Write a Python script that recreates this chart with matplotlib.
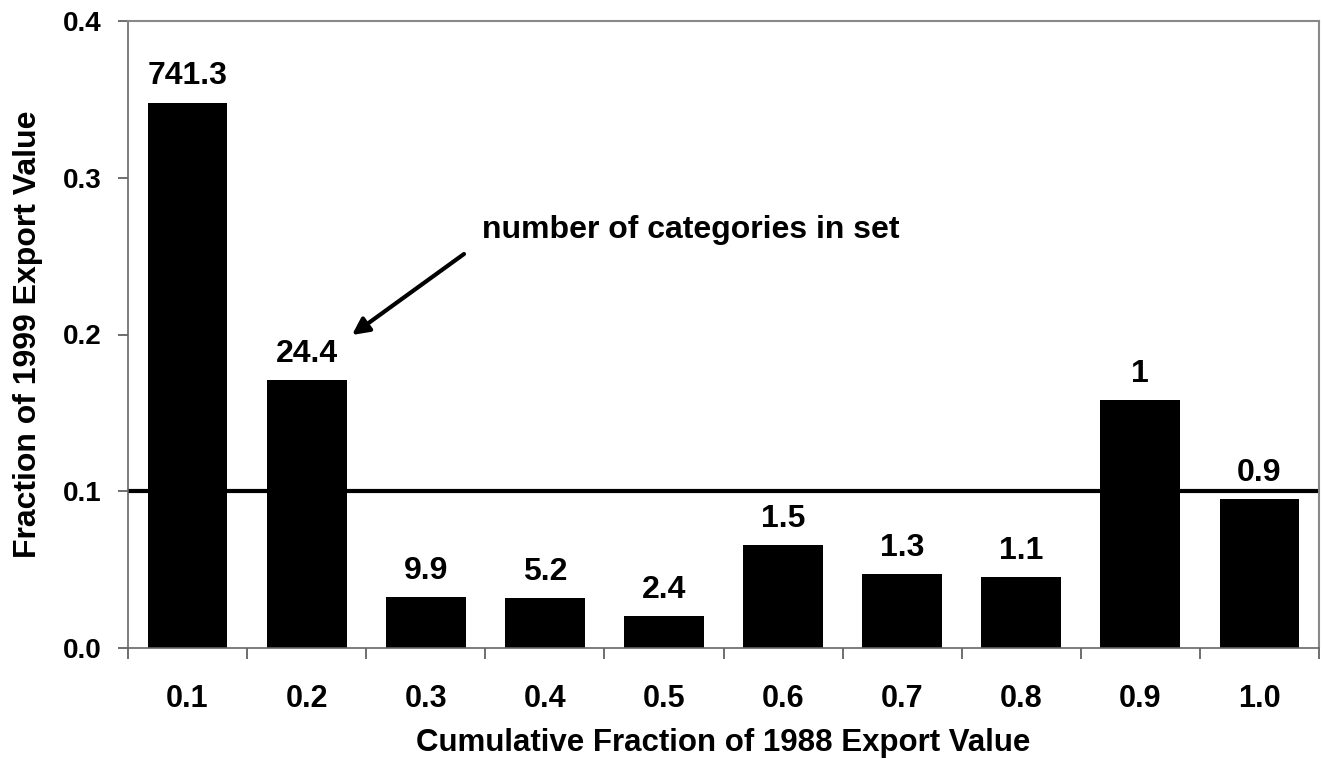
import matplotlib
matplotlib.use("Agg")
import matplotlib.pyplot as plt
import numpy as np

categories = ["0.1", "0.2", "0.3", "0.4", "0.5", "0.6", "0.7", "0.8", "0.9", "1.0"]
fractions = [0.348, 0.171, 0.0325, 0.032, 0.0205, 0.0655, 0.047, 0.045, 0.158, 0.095]
counts = ["741.3", "24.4", "9.9", "5.2", "2.4", "1.5", "1.3", "1.1", "1", "0.9"]
yticks = [0.0, 0.1, 0.2, 0.3, 0.4]
ref_level = 0.1

plt.rcParams['font.family'] = ['Liberation Sans', 'DejaVu Sans']
plt.rcParams['font.weight'] = 'bold'

fig = plt.figure(figsize=(13.23, 7.72), dpi=100)
ax = fig.add_axes([128/1323, 1-648/772, (1319-128)/1323, (648-21)/772])

x = np.arange(len(categories))
ax.axhline(ref_level, color='black', linewidth=3, zorder=1)
ax.bar(x, fractions, width=0.67, color='black', zorder=2)

for xi, v, lab in zip(x, fractions, counts):
    ax.annotate(lab, (xi, v), xytext=(0, 8), textcoords='offset points',
                ha='center', va='bottom', fontsize=23, fontweight='bold')

ax.set_xlim(-0.5, len(categories) - 0.5)
ax.set_ylim(0, 0.4)
ax.set_yticks(yticks)
ax.set_yticklabels([f"{t:.1f}" for t in yticks])
ax.set_xticks(x)
ax.set_xticklabels(categories)
ax.set_xticks(np.arange(len(categories) + 1) - 0.5, minor=True)
ax.tick_params(axis='x', which='major', length=0, pad=26, labelsize=22)
ax.tick_params(axis='x', which='minor', length=8, width=1.2, color='#555555', direction='out')
ax.tick_params(axis='y', which='major', length=7, width=1.2, color='#555555', direction='out',
               labelsize=20, pad=12)
for lbl in ax.get_xticklabels() + ax.get_yticklabels():
    lbl.set_fontweight('bold')

for s in ['left', 'bottom']:
    ax.spines[s].set_color('#666666')
    ax.spines[s].set_linewidth(1.2)
for s in ['top', 'right']:
    ax.spines[s].set_color('#888888')
    ax.spines[s].set_linewidth(1.5)

ax.set_xlabel("Cumulative Fraction of 1988 Export Value", fontsize=22.5, fontweight='bold', labelpad=10)
ax.set_ylabel("Fraction of 1999 Export Value", fontsize=23, fontweight='bold', labelpad=14)

# annotation with arrow
fig.text(482/1323, 1-230/772, "number of categories in set", fontsize=23, fontweight='bold',
         ha='left', va='center')
ax.annotate("", xy=(352/1323, 1-335/772), xycoords='figure fraction',
            xytext=(464/1323, 1-254/772), textcoords='figure fraction',
            arrowprops=dict(arrowstyle='-|>', color='black', lw=3, mutation_scale=25,
                            shrinkA=0, shrinkB=0))

fig.savefig("out.png", dpi=100)
